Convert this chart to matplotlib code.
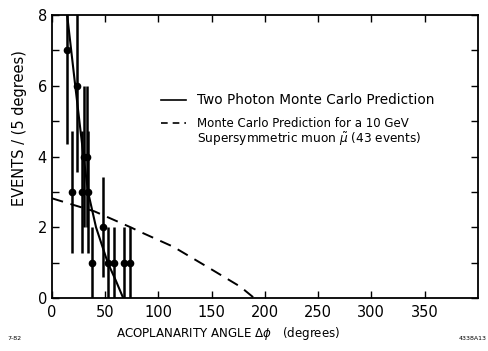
import matplotlib
matplotlib.use("Agg")
import matplotlib.pyplot as plt
import numpy as np

# data points (bin centres, events per 5 degrees)
pt_x = [14, 18.5, 23.5, 28, 30.5, 33, 33.5, 38, 48, 52.5, 58, 68, 73.5]
pt_y = [7, 3, 6, 3, 4, 4, 3, 1, 2, 1, 1, 1, 1]
pt_err = [float(np.sqrt(v)) for v in pt_y]

# two photon Monte Carlo prediction (solid)
mc2g_x = [14.4, 22, 29, 34, 41.5, 52.5, 60, 67]
mc2g_y = [8.0, 6.0, 4.2, 3.0, 2.0, 1.0, 0.5, 0.0]

# supersymmetric muon prediction (dashed)
smu_x = [0, 40, 74, 83, 114, 146, 177, 190]
smu_y = [2.82, 2.45, 2.0, 1.87, 1.45, 0.88, 0.32, 0.0]

xticks = [0, 50, 100, 150, 200, 250, 300, 350]
yticks = [0, 2, 4, 6, 8]

plt.rcParams['font.family'] = ['DejaVu Sans']

fig = plt.figure(figsize=(4.89, 3.51), dpi=100)
ax = fig.add_axes([0.106, 0.151, 0.871, 0.806])

ax.errorbar(pt_x, pt_y, yerr=pt_err, fmt='o', color='black', ms=4.5,
            elinewidth=1.8, capsize=0, zorder=3)
ax.plot(mc2g_x, mc2g_y, color='black', lw=1.5)
ax.plot(smu_x, smu_y, color='black', lw=1.4, dashes=(6, 4))

ax.set_xlim(0, 400)
ax.set_ylim(0, 8)
ax.set_xticks(xticks)
ax.set_yticks(yticks)
ax.set_yticks([1, 3, 5, 7], minor=True)
ax.tick_params(which='both', direction='in', top=True, right=True,
               length=5, width=1.0, labelsize=10.5)
ax.tick_params(axis='x', pad=5)
for s in ax.spines.values():
    s.set_linewidth(1.3)

ax.set_xlabel(r'ACOPLANARITY ANGLE $\Delta\phi$   (degrees)', fontsize=8.6, labelpad=2)
ax.xaxis.set_label_coords(0.415, -0.095)
ax.set_ylabel('EVENTS / (5 degrees)', fontsize=10.5, labelpad=8)
ax.yaxis.set_label_coords(-0.058, 0.60)

# legend drawn manually
ax.plot([0.257, 0.316], [0.70, 0.70], transform=ax.transAxes, color='black', lw=1.2)
ax.plot([0.257, 0.316], [0.618, 0.618], transform=ax.transAxes, color='black', lw=1.2,
        dashes=(4, 3))
ax.text(0.34, 0.70, 'Two Photon Monte Carlo Prediction', transform=ax.transAxes,
        fontsize=9.8, va='center', ha='left')
ax.text(0.34, 0.618, 'Monte Carlo Prediction for a 10 GeV', transform=ax.transAxes,
        fontsize=8.5, va='center', ha='left')
ax.text(0.34, 0.562, r'Supersymmetric muon $\tilde{\mu}$ (43 events)', transform=ax.transAxes,
        fontsize=8.7, va='center', ha='left')

fig.text(0.016, 0.037, '7-82', fontsize=4.5, ha='left', va='center')
fig.text(0.995, 0.037, '4338A13', fontsize=4.5, ha='right', va='center')

fig.savefig('out.png', dpi=100)
